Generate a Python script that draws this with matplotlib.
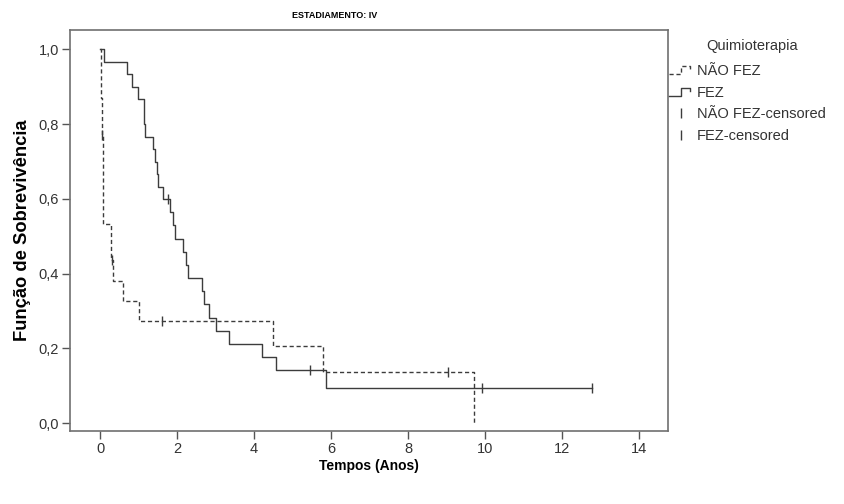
import numpy as np
import matplotlib
matplotlib.use("Agg")
import matplotlib.pyplot as plt
from matplotlib.legend_handler import HandlerBase
from matplotlib.lines import Line2D
from matplotlib.ticker import FuncFormatter

plt.rcParams['font.family'] = ['Liberation Sans', 'DejaVu Sans']

# Kaplan-Meier estimates, estadiamento IV (tempo em anos)
tempo_nao_fez = [0, 0.02, 0.03, 0.04, 0.05, 0.07, 0.08, 0.28, 0.33, 0.60, 1.01, 4.50, 5.78, 9.70]
sobrev_nao_fez = [1.0, 0.93, 0.87, 0.82, 0.77, 0.66, 0.533, 0.436, 0.381, 0.327, 0.273, 0.206, 0.137, 0.0]
fim_nao_fez = 9.70
cens_nao_fez = [0.06, 0.31, 1.60, 9.03]

tempo_fez = [0, 0.09, 0.69, 0.82, 0.99, 1.14, 1.15, 1.17, 1.38, 1.43, 1.49, 1.50, 1.63,
             1.82, 1.90, 1.95, 2.16, 2.22, 2.29, 2.66, 2.70, 2.83, 3.01, 3.35, 4.20, 4.57, 5.87]
sobrev_fez = [1.0, 0.967, 0.933, 0.900, 0.867, 0.833, 0.800, 0.767, 0.733, 0.700, 0.667, 0.633, 0.600,
              0.565, 0.529, 0.494, 0.459, 0.424, 0.388, 0.353, 0.318, 0.282, 0.247, 0.212, 0.176, 0.141, 0.094]
fim_fez = 12.77
cens_fez = [1.77, 5.44, 9.91, 12.77]

grupos = ["NÃO FEZ", "FEZ"]
xticks = [0, 2, 4, 6, 8, 10, 12, 14]
yticks = [0.0, 0.2, 0.4, 0.6, 0.8, 1.0]

COR = "#3c3c3c"
TRACO = (0, (3, 2))


def valor_em(tempos, sobrev, t):
    i = np.searchsorted(tempos, t, side="right") - 1
    return np.asarray(sobrev)[i]


class StepHandler(HandlerBase):
    # little step-shaped legend glyph
    def create_artists(self, legend, orig_handle, xdescent, ydescent, width, height, fontsize, trans):
        x = np.array([0, 0.5, 0.5, 0.92, 0.92]) * width - xdescent
        y = np.array([0.1, 0.1, 0.85, 0.85, 0.55]) * height - ydescent
        ln = Line2D(x, y)
        ln.update_from(orig_handle)
        ln.set_marker("")
        ln.set_drawstyle("default")
        ln.set_clip_on(False)
        ln.set_clip_box(None)
        ln.set_transform(trans)
        return [ln]


fig = plt.figure(figsize=(8.45, 5.04), dpi=100)
ax = fig.add_axes([70 / 845, 1 - 431 / 504, 598 / 845, 401 / 504])

l1, = ax.step(tempo_nao_fez + [fim_nao_fez], sobrev_nao_fez + [sobrev_nao_fez[-1]], where="post",
              color=COR, lw=1.0, linestyle=TRACO)
l2, = ax.step(tempo_fez + [fim_fez], sobrev_fez + [sobrev_fez[-1]], where="post",
              color=COR, lw=1.0)

c1 = ax.plot(cens_nao_fez, [valor_em(tempo_nao_fez, sobrev_nao_fez, t) for t in cens_nao_fez],
             ls="none", marker="|", ms=7, mew=1.0, color=COR)[0]
c2 = ax.plot(cens_fez, [valor_em(tempo_fez, sobrev_fez, t) for t in cens_fez],
             ls="none", marker="|", ms=7, mew=1.0, color=COR)[0]

ax.set_xlim(-0.78, 14.75)
ax.set_ylim(-0.021, 1.052)
ax.set_xticks(xticks)
ax.set_yticks(yticks)
ax.yaxis.set_major_formatter(FuncFormatter(lambda v, p: f"{v:.1f}".replace(".", ",")))
ax.tick_params(length=6, width=1, color="#555555", labelsize=10.5, labelcolor="#333333", pad=2)
for sp in ax.spines.values():
    sp.set_color("#707070")
    sp.set_linewidth(1.2)

ax.set_xlabel("Tempos (Anos)", fontsize=10, fontweight="bold", labelpad=2)
ax.set_ylabel("Função de Sobrevivência", fontsize=13.2, fontweight="bold", labelpad=5)
fig.text(335 / 845, 1 - 15 / 504, "ESTADIAMENTO: IV", fontsize=6.5, fontweight="bold",
         ha="center", va="center")

fig.text(752 / 845, 1 - 46 / 504, "Quimioterapia", fontsize=10.5, color="#333333",
         ha="center", va="center")
leg = fig.legend([l1, l2, c1, c2],
                 [grupos[0], grupos[1], grupos[0] + "-censored", grupos[1] + "-censored"],
                 handler_map={l1: StepHandler(), l2: StepHandler()},
                 loc="upper left", bbox_to_anchor=(669 / 845, 1 - 64 / 504), frameon=False,
                 fontsize=10.5, handlelength=1.6, handletextpad=0.3, labelspacing=0.52,
                 borderpad=0, borderaxespad=0)
for t in leg.get_texts():
    t.set_color("#333333")

fig.savefig("out.png", dpi=100)
